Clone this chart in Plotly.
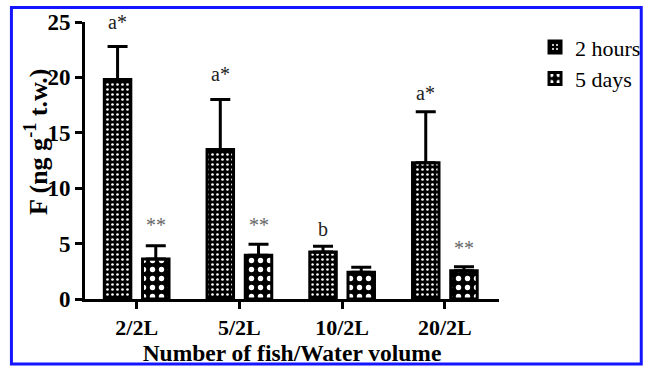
import plotly.graph_objects as go

# ---- data ----
categories = ["2/2L", "5/2L", "10/2L", "20/2L"]
hours_2 = [19.8, 13.5, 4.25, 12.3]
hours_2_err = [3.0, 4.5, 0.5, 4.6]
days_5 = [3.6, 3.95, 2.42, 2.55]
days_5_err = [1.2, 1.0, 0.45, 0.37]

hours_labels = ["a*", "a*", "b", "a*"]
hours_label_y = [25.0, 20.3, 6.3, 18.6]
days_labels = ["**", "**", "", "**"]
days_label_y = [6.7, 6.7, 0, 4.6]

y_ticks = [0, 5, 10, 15, 20, 25]

SERIF = "Liberation Serif, Times New Roman, serif"
BARGAP = 0.256
BARGROUPGAP = 0.307

fig = go.Figure()

fig.add_trace(go.Bar(
    name="2 hours", x=categories, y=hours_2,
    marker=dict(color="black",
                line=dict(color="black", width=3),
                pattern=dict(shape=".", fgcolor="white", bgcolor="black",
                             size=5, solidity=0.22, fillmode="replace")),
    error_y=dict(type="data", array=hours_2_err, arrayminus=[0] * 4,
                 symmetric=False, color="black", thickness=3, width=10),
))
fig.add_trace(go.Bar(
    name="5 days", x=categories, y=days_5,
    marker=dict(color="black",
                line=dict(color="black", width=3),
                pattern=dict(shape=".", fgcolor="white", bgcolor="black",
                             size=9, solidity=0.28, fillmode="replace")),
    error_y=dict(type="data", array=days_5_err, arrayminus=[0] * 4,
                 symmetric=False, color="black", thickness=3, width=10),
))

# significance labels above the bars
off = (1 - BARGAP) / 4
annotations = []
for i, (t, yv) in enumerate(zip(hours_labels, hours_label_y)):
    if t:
        annotations.append(dict(x=i - off, y=yv, xref="x", yref="y", text=t,
                                showarrow=False, yanchor="middle",
                                font=dict(family=SERIF, size=20, color="#222")))
for i, (t, yv) in enumerate(zip(days_labels, days_label_y)):
    if t:
        annotations.append(dict(x=i + off, y=yv, xref="x", yref="y", text=t,
                                showarrow=False, yanchor="middle",
                                font=dict(family=SERIF, size=20, color="#666")))

# y-axis title (placed as rotated annotation)
annotations.append(dict(x=-0.116, y=0.567, xref="paper", yref="paper",
                        text="F (ng g<sup>-1</sup> t.w.)", textangle=-90,
                        showarrow=False, xanchor="center", yanchor="middle",
                        font=dict(family=SERIF, size=26, color="black", weight="bold")))

fig.update_layout(
    width=658, height=366,
    margin=dict(l=85, r=151, t=22, b=67),
    paper_bgcolor="white", plot_bgcolor="white",
    barmode="group", bargap=BARGAP, bargroupgap=BARGROUPGAP,
    showlegend=True,
    legend=dict(x=1.087, y=0.985, xanchor="left", yanchor="top",
                font=dict(family=SERIF, size=22, color="black"),
                bgcolor="rgba(0,0,0,0)", tracegroupgap=0),
    annotations=annotations,
    shapes=[dict(type="rect", xref="paper", yref="paper",
                 x0=-0.1777, x1=1.3436, y0=-0.2347, y1=1.0523,
                 line=dict(color="#1515ff", width=3), layer="above")],
)

fig.update_xaxes(
    type="category", range=[-0.503, 3.527], automargin=False,
    showline=True, linecolor="black", linewidth=3,
    ticks="outside", ticklen=7, tickwidth=3, tickcolor="black",
    showgrid=False, zeroline=False,
    tickfont=dict(family=SERIF, size=22, color="black", weight="bold"),
    title=dict(text="Number of fish/Water volume", standoff=8,
               font=dict(family=SERIF, size=23.5, color="black", weight="bold")),
)
fig.update_yaxes(
    range=[0, 25], tickvals=y_ticks, automargin=False,
    showline=True, linecolor="black", linewidth=3,
    ticks="outside", ticklen=7, tickwidth=3, tickcolor="black",
    showgrid=False, zeroline=False,
    tickfont=dict(family=SERIF, size=23, color="black", weight="bold"),
)

fig.write_html("out.html")
